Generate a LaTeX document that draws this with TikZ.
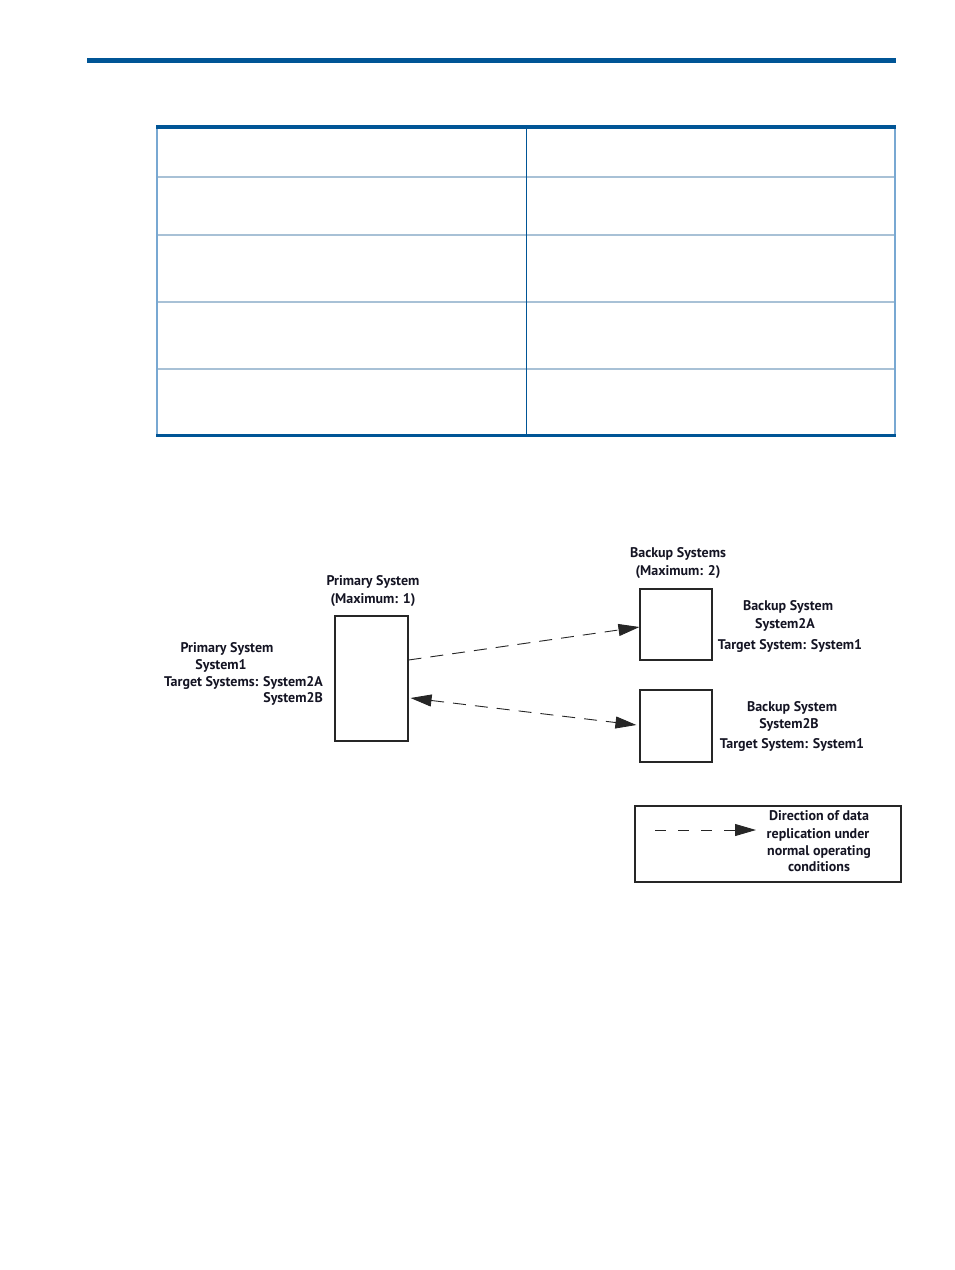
\documentclass[tikz,border=0pt]{standalone}
\usepackage{fontspec}
\setmainfont{PT Sans}
\usetikzlibrary{arrows.meta}
\definecolor{hpblue}{RGB}{0,85,150}
\definecolor{rowline}{RGB}{168,193,214}
\definecolor{sideline}{RGB}{120,168,210}
\definecolor{txt}{RGB}{20,20,35}
\begin{document}
\begin{tikzpicture}[x=1pt,y=-1pt,
  >={Triangle[length=21pt,width=12pt]},
  lbl/.style={font=\bfseries\fontsize{14}{16}\selectfont, text=txt, inner sep=0pt, anchor=base},
  sysbox/.style={draw=black!85, line width=1.1pt, inner sep=0pt},
  flow/.style={draw=black!85, line width=0.9pt, dash pattern=on 13pt off 9pt},
]
\useasboundingbox (0,0) rectangle (954,1270);
% top rule
\fill[hpblue] (87,58) rectangle (896,63);
% table
\foreach \yy in {177,235,302,369}{
  \draw[rowline, line width=2.2pt] (157,\yy) -- (895,\yy);
}
\draw[sideline, line width=1.3pt] (157,126) -- (157,436);
\draw[sideline, line width=1.3pt] (895,126) -- (895,436);
\draw[hpblue, line width=1pt] (526,126) -- (526,436);
\fill[hpblue] (156,125) rectangle (896,129);
\fill[hpblue] (156,433.5) rectangle (896,437);
% boxes
\node[sysbox, minimum width=73pt, minimum height=125pt] (prim) at (371.5,678.5) {};
\node[sysbox, minimum width=72pt, minimum height=71pt] (bA) at (676,624.5) {};
\node[sysbox, minimum width=72pt, minimum height=72pt] (bB) at (676,726) {};
\node[sysbox, minimum width=266pt, minimum height=76pt] (legend) at (768,844) {};
% labels
\node[lbl] (pt1) at (373,585) {Primary System};
\node[lbl] (pt2) at (373,603) {(Maximum: 1)};
\node[lbl] (bt1) at (678,557) {Backup Systems};
\node[lbl] (bt2) at (678,575) {(Maximum: 2)};
\node[lbl] (pl1) at (227,652) {Primary System};
\node[lbl] (pl2) at (221,669) {System1};
\node[lbl, anchor=base east] (pl3) at (323,686) {Target Systems: System2A};
\node[lbl, anchor=base east] (pl4) at (323,702) {System2B};
\node[lbl] (al1) at (788,610) {Backup System};
\node[lbl] (al2) at (785,628) {System2A};
\node[lbl] (al3) at (790,649) {Target System: System1};
\node[lbl] (bl1) at (792,711) {Backup System};
\node[lbl] (bl2) at (789,728) {System2B};
\node[lbl] (bl3) at (792,748) {Target System: System1};
\node[lbl] (lg1) at (819,820) {Direction of data};
\node[lbl] (lg2) at (818,838) {replication under};
\node[lbl] (lg3) at (819,855) {normal operating};
\node[lbl] (lg4) at (819,871) {conditions};
% connectors
\draw[flow, ->] ([yshift=18.5pt]prim.east) -- ([yshift=-2.5pt]bA.west);
\draw[flow, <->] ([yshift=-19.5pt,xshift=2pt]prim.east) -- ([yshift=1pt,xshift=-3pt]bB.west);
\coordinate (legA) at (655,830);
\coordinate (legB) at (756,830);
\draw[flow, dash pattern=on 11pt off 12pt, ->] (legA) -- (legB);
\end{tikzpicture}
\end{document}
